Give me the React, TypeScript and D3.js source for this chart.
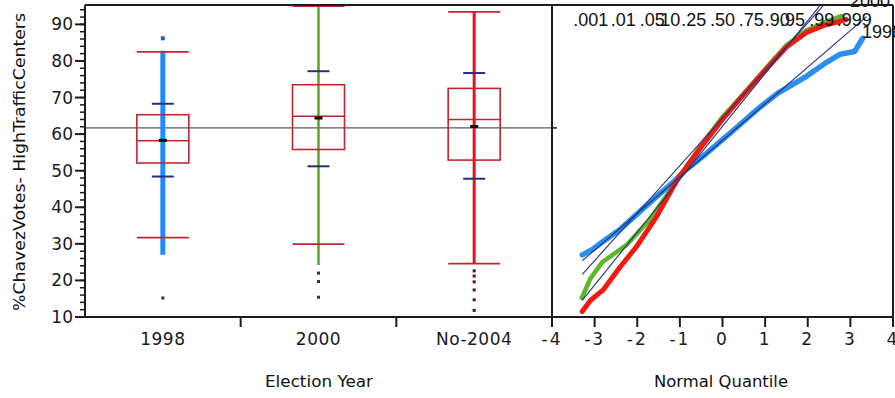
import React from 'react';
import * as d3 from 'd3';

const categories = ['1998', '2000', 'No-2004'];
const boxQ1 = [52.1, 55.8, 52.9];
const boxMedian = [58.2, 64.9, 64.0];
const boxQ3 = [65.3, 73.5, 72.5];
const whiskerLow = [31.7, 29.9, 24.6];
const whiskerHigh = [82.5, 95.0, 93.4];
const means = [58.3, 64.4, 62.1];
const sdLow = [48.4, 51.2, 47.8];
const sdHigh = [68.3, 77.2, 76.7];
const stripMin = [27.0, 24.2, 24.6];
const stripMax = [82.8, 95.0, 93.4];
const outliers1998 = [86.2];
const outliersDark1998 = [15.2];
const outliers2000 = [22.0, 19.7, 15.4];
const outliers2004 = [22.6, 21.2, 19.6, 17.4, 14.7, 11.8];
const grandMean = 61.7;
const yTicks = [10, 20, 30, 40, 50, 60, 70, 80, 90];
const yMinorTicks = d3.range(10, 96, 2);
const qTicks = [-4, -3, -2, -1, 0, 1, 2, 3, 4];
const probLabels = ['.001', '.01', '.05', '.10', '.25', '.50', '.75', '.90', '.95', '.99', '.999'];
const probQuantiles = [-3.09, -2.326, -1.645, -1.282, -0.674, 0, 0.674, 1.282, 1.645, 2.326, 3.09];

const qqBlue: [number, number][] = [
  [-3.29, 27.0], [-3.05, 28.5], [-2.82, 30.5], [-2.42, 33.8], [-2.02, 38.0], [-1.55, 42.9],
  [-1.17, 46.7], [-0.85, 50.3], [-0.4, 54.5], [0, 58.5], [0.4, 62.5], [0.87, 67.3],
  [1.3, 71.2], [1.97, 75.8], [2.4, 79.3], [2.75, 81.8], [3.1, 82.6], [3.29, 86.2],
];
const qqGreen: [number, number][] = [
  [-3.3, 15.2], [-3.1, 20.5], [-2.82, 25.0], [-2.25, 29.7], [-1.71, 36.6], [-1.17, 45.6],
  [-0.5, 57.0], [0, 64.7], [0.4, 69.8], [1.17, 80.0], [1.5, 84.3], [1.97, 88.4],
  [2.4, 90.6], [2.8, 92.3],
];
const qqRed: [number, number][] = [
  [-3.29, 11.5], [-3.1, 14.5], [-2.8, 17.4], [-2.42, 23.4], [-2.02, 29.2], [-1.55, 37.4],
  [-1.06, 47.5], [-0.5, 56.5], [0, 64.0], [0.4, 69.5], [1.17, 79.6], [1.5, 83.8],
  [1.97, 87.8], [2.4, 89.8], [2.75, 90.8], [2.9, 91.4],
];
const refMeans = [58.3, 64.4, 62.1];
const refSds = [10.0, 13.0, 14.45];
const refQRange: [number, number] = [-3.29, 3.38];

const W = 895;
const H = 398;
const leftX0 = 85;
const leftX1 = 552;
const rightX1 = 893;
const plotTop = 5;
const plotBottom = 317;

const stripColors = ['#1e8cff', '#55a62c', '#e0161b'];
const stripWidths = [5, 2.5, 3];
const qqColors = ['#2a8ff0', '#5cb82a', '#f01a10'];
const qqWidths = [5.5, 4.5, 5];
const crimson = '#c3262e';
const navy = '#26307a';
const axisColor = '#1c1c1c';
const tickFont = '"DejaVu Sans", sans-serif';
const probFont = '"Liberation Sans", Arial, sans-serif';

export default function App() {
  const y = d3.scaleLinear().domain([10, 95.3]).range([plotBottom, plotTop]);
  const xCat = d3.scaleBand().domain(categories).range([leftX0, leftX1]).padding(0);
  const xQ = d3.scaleLinear().domain([-4, 4]).range([leftX1, rightX1]);
  const line = d3.line<[number, number]>().x((d) => xQ(d[0])).y((d) => y(d[1]));
  const bw = xCat.bandwidth();
  const boxHalf = 26;
  const sdHalf = 11;
  const darkOutliers = [outliersDark1998, outliers2000, outliers2004];

  return (
    <div style={{ position: 'absolute', left: 0, top: 0 }}>
      <svg width={W} height={H} style={{ display: 'block', background: '#fff' }}>
        <defs>
          <clipPath id="qqclip">
            <rect x={leftX1} y={plotTop} width={rightX1 - leftX1} height={plotBottom - plotTop} />
          </clipPath>
        </defs>
        <rect x={0} y={0} width={W} height={H} fill="#fff" />

        {/* grand mean line */}
        <line x1={leftX0} x2={leftX1} y1={y(grandMean)} y2={y(grandMean)} stroke="#5a5a5a" strokeWidth={1.3} />

        {/* box plots */}
        {categories.map((c, i) => {
          const cx = (xCat(c) as number) + bw / 2;
          return (
            <g key={c}>
              <line x1={cx} x2={cx} y1={y(stripMax[i])} y2={y(stripMin[i])} stroke={stripColors[i]} strokeWidth={stripWidths[i]} />
              <rect x={cx - boxHalf} y={y(boxQ3[i])} width={boxHalf * 2} height={y(boxQ1[i]) - y(boxQ3[i])} fill="none" stroke={crimson} strokeWidth={1.6} />
              <line x1={cx - boxHalf} x2={cx + boxHalf} y1={y(boxMedian[i])} y2={y(boxMedian[i])} stroke={crimson} strokeWidth={1.6} />
              <line x1={cx - boxHalf} x2={cx + boxHalf} y1={y(whiskerHigh[i])} y2={y(whiskerHigh[i])} stroke={crimson} strokeWidth={1.8} />
              <line x1={cx - boxHalf} x2={cx + boxHalf} y1={y(whiskerLow[i])} y2={y(whiskerLow[i])} stroke={crimson} strokeWidth={1.8} />
              <line x1={cx - sdHalf} x2={cx + sdHalf} y1={y(sdHigh[i])} y2={y(sdHigh[i])} stroke={navy} strokeWidth={2} />
              <line x1={cx - sdHalf} x2={cx + sdHalf} y1={y(sdLow[i])} y2={y(sdLow[i])} stroke={navy} strokeWidth={2} />
              <rect x={cx - 4} y={y(means[i]) - 1.5} width={8} height={3} fill="#111" />
              {darkOutliers[i].map((v, k) => (
                <rect key={k} x={cx - 1.5} y={y(v) - 1.5} width={3} height={3} fill={i === 2 ? '#5a1020' : '#333'} />
              ))}
              {i === 0 && outliers1998.map((v, k) => (
                <rect key={'b' + k} x={cx - 2} y={y(v) - 2} width={4} height={4} fill="#1f5fc0" />
              ))}
            </g>
          );
        })}

        {/* QQ plot */}
        <g clipPath="url(#qqclip)">
          {[qqBlue, qqGreen, qqRed].map((pts, i) => (
            <path key={i} d={line(pts) as string} fill="none" stroke={qqColors[i]} strokeWidth={qqWidths[i]} strokeLinejoin="round" strokeLinecap="round" />
          ))}
          {refMeans.map((m, i) => (
            <line key={'r' + i} x1={xQ(refQRange[0])} x2={xQ(refQRange[1])} y1={y(m + refSds[i] * refQRange[0])} y2={y(m + refSds[i] * refQRange[1])} stroke={navy} strokeWidth={1.1} />
          ))}
        </g>

        {/* probability labels */}
        {probLabels.map((p, i) => (
          <text key={p} x={xQ(probQuantiles[i])} y={26} textAnchor="middle" fontFamily={probFont} fontSize={18} fill="#111">{p}</text>
        ))}
        <text x={862} y={38} fontFamily={probFont} fontSize={18} fill="#111">1998</text>
        <text x={850} y={7} fontFamily={probFont} fontSize={18} fill="#111">2000</text>

        {/* frame */}
        <line x1={leftX0} x2={rightX1} y1={plotTop} y2={plotTop} stroke={axisColor} strokeWidth={2} />
        <line x1={leftX0} x2={rightX1} y1={plotBottom} y2={plotBottom} stroke={axisColor} strokeWidth={2} />
        <line x1={leftX0} x2={leftX0} y1={plotTop} y2={plotBottom} stroke={axisColor} strokeWidth={2} />
        <line x1={leftX1} x2={leftX1} y1={plotTop} y2={plotBottom + 10} stroke={axisColor} strokeWidth={2} />
        <line x1={rightX1} x2={rightX1} y1={plotTop} y2={plotBottom + 10} stroke={axisColor} strokeWidth={2} />

        {/* y ticks */}
        {yMinorTicks.map((t) => (
          <line key={'m' + t} x1={leftX0 - 5} x2={leftX0} y1={y(t)} y2={y(t)} stroke={axisColor} strokeWidth={1.5} />
        ))}
        {yTicks.map((t) => (
          <g key={t}>
            <line x1={leftX0 - 10} x2={leftX0} y1={y(t)} y2={y(t)} stroke={axisColor} strokeWidth={2} />
            <text x={leftX0 - 12} y={y(t) + 6} textAnchor="end" fontFamily={tickFont} fontSize={17} fill="#1a1a1a">{t}</text>
          </g>
        ))}
        <line x1={leftX1 + 1} x2={leftX1 + 5} y1={y(grandMean)} y2={y(grandMean)} stroke={axisColor} strokeWidth={1.5} />

        {/* category axis */}
        {categories.slice(1).map((c) => (
          <line key={'s' + c} x1={xCat(c) as number} x2={xCat(c) as number} y1={plotBottom} y2={plotBottom + 10} stroke={axisColor} strokeWidth={2} />
        ))}
        {categories.map((c) => (
          <text key={'l' + c} x={(xCat(c) as number) + bw / 2} y={345} textAnchor="middle" fontFamily={tickFont} fontSize={17} letterSpacing={0.5} fill="#1a1a1a">{c}</text>
        ))}

        {/* quantile axis */}
        {qTicks.map((t) => (
          <g key={'q' + t}>
            <line x1={xQ(t)} x2={xQ(t)} y1={plotBottom} y2={plotBottom + 10} stroke={axisColor} strokeWidth={2} />
            <text x={xQ(t)} y={345} textAnchor="middle" fontFamily={tickFont} fontSize={17} letterSpacing={2} fill="#1a1a1a">{t < 0 ? '-' + Math.abs(t) : String(t)}</text>
          </g>
        ))}

        {/* titles */}
        <text x={319} y={387} textAnchor="middle" fontFamily={tickFont} fontSize={15} textLength={108} lengthAdjust="spacingAndGlyphs" fill="#111">Election Year</text>
        <text x={721} y={387} textAnchor="middle" fontFamily={tickFont} fontSize={15} textLength={134} lengthAdjust="spacingAndGlyphs" fill="#111">Normal Quantile</text>
        <text transform={`translate(25,${(12 + 312) / 2}) rotate(-90)`} textAnchor="middle" fontFamily={tickFont} fontSize={15} textLength={298} lengthAdjust="spacingAndGlyphs" fill="#111">%ChavezVotes- HighTrafficCenters</text>
      </svg>
    </div>
  );
}
